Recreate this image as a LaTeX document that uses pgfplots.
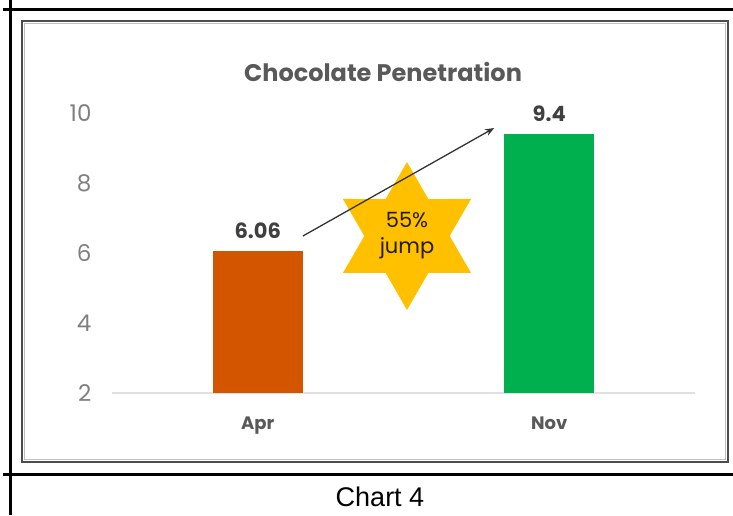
\documentclass[border=0pt]{standalone}
\usepackage{fontspec}
\setmainfont{Poppins}
\newfontfamily\arialf{Liberation Sans}
\usepackage{pgfplots}
\pgfplotsset{compat=1.18}
\usetikzlibrary{arrows.meta}
\definecolor{aprc}{HTML}{D45500}
\definecolor{novc}{HTML}{00B04F}
\definecolor{starc}{HTML}{FFC000}
\definecolor{titlec}{HTML}{595959}
\definecolor{tickc}{HTML}{7F7F7F}
\definecolor{valc}{HTML}{404040}
\begin{document}
\begin{tikzpicture}[x=1pt,y=1pt]
\useasboundingbox (0,0) rectangle (733,515);
% table frame
\draw[line width=3pt] (3,505) -- (733,505);
\draw[line width=3pt] (3,41) -- (733,41);
\draw[line width=3pt] (10,515) -- (10,0);
% inner box
\draw[line width=1.8pt, black!70] (22,494) rectangle (728,53);
\draw[line width=0.8pt, black!25] (24.5,491.5) rectangle (725.5,55.5);
% caption
\node[font=\arialf\fontsize{27}{30}\selectfont] at (380,18) {Chart 4};
% title
\node[font=\bfseries\fontsize{24}{27}\selectfont, text=titlec] at (383,443) {Chocolate Penetration};
\begin{axis}[
  at={(112pt,122pt)}, anchor=south west,
  scale only axis, width=583pt, height=280pt,
  xmin=-0.5, xmax=1.5, ymin=2, ymax=10,
  axis line style={draw=none},
  major tick length=0pt,
  xtick={0,1}, xticklabels={Apr,Nov},
  ytick={2,4,6,8,10},
  /pgf/number format/assume math mode=true,
  xticklabel style={font=\bfseries\fontsize{18}{21}\selectfont, text=titlec, yshift=-20pt},
  yticklabel style={font=\fontsize{23}{26}\selectfont, text=tickc, xshift=-17pt},
  clip=false,
  ybar, bar width=90pt, bar shift=0pt,
  nodes near coords,
  point meta=explicit symbolic,
  nodes near coords style={font=\bfseries\fontsize{21}{24}\selectfont, text=valc, anchor=south, yshift=9pt},
]
\draw[black!12, line width=1.2pt] (axis cs:-0.5,2) -- (axis cs:1.5,2);
\addplot[fill=aprc, draw=none] coordinates {(0,6.06) [6.06]};
\addplot[fill=novc, draw=none] coordinates {(1,9.4) [9.4]};
\fill[starc, shift={(axis cs:0.512,6.486)}]
  (90:74pt) -- (60:42.7pt) -- (30:74pt) -- (0:42.7pt) -- (-30:74pt) -- (-60:42.7pt)
  -- (-90:74pt) -- (-120:42.7pt) -- (-150:74pt) -- (180:42.7pt) -- (150:74pt) -- (120:42.7pt) -- cycle;
\draw[black!80, line width=1.3pt, -{Stealth[length=9pt,width=7pt]}] (axis cs:0.155,6.486) -- (axis cs:0.811,9.571);
\node[font=\fontsize{21}{26}\selectfont, text=black!85!starc, align=center] at (axis cs:0.512,6.486) {55\%\\jump};
\end{axis}
\end{tikzpicture}
\end{document}
